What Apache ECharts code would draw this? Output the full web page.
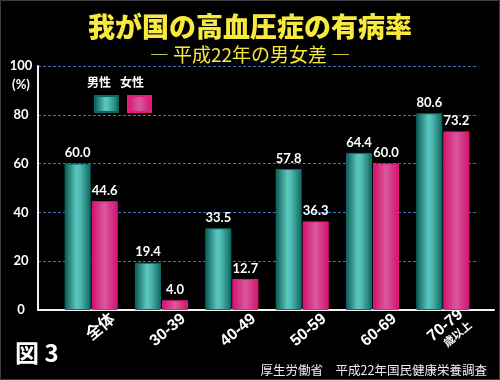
<!DOCTYPE html>
<html><head><meta charset="utf-8">
<script src="https://cdn.jsdelivr.net/npm/echarts@6/dist/echarts.min.js"></script>
<style>html,body{margin:0;padding:0;background:#000;}#c{width:500px;height:380px;}</style>
</head><body><div id="c"></div>
<script>
const titleText = '我が国の高血圧症の有病率';
const subTitleText = '― 平成22年の男女差 ―';
const categories = ['全体', '30-39', '40-49', '50-59', '60-69', '70-79'];
const lastCategoryNote = '歳以上';
const seriesNames = ['男性', '女性'];
const maleValues = [60.0, 19.4, 33.5, 57.8, 64.4, 80.6];
const femaleValues = [44.6, 4.0, 12.7, 36.3, 60.0, 73.2];
const yTicks = [0, 20, 40, 60, 80, 100];
const unitText = '(%)';
const figureText = '図 3';
const sourceText = '厚生労働省　平成22年国民健康栄養調査';

const CJK = '"Noto Sans CJK JP", sans-serif';
const NUM = 'Lato, "Noto Sans CJK JP", sans-serif';
const yMin = yTicks[0], yMax = yTicks[yTicks.length - 1], yStep = yTicks[1] - yTicks[0];

const chart = echarts.init(document.getElementById('c'), null, {renderer: 'canvas'});
const maleGrad = new echarts.graphic.LinearGradient(0, 0, 1, 0, [
  {offset: 0, color: '#0a5a53'}, {offset: 0.45, color: '#5cc7be'},
  {offset: 0.6, color: '#4fbab1'}, {offset: 1, color: '#0c675f'}]);
const femaleGrad = new echarts.graphic.LinearGradient(0, 0, 1, 0, [
  {offset: 0, color: '#d2106d'}, {offset: 0.5, color: '#d85a9b'}, {offset: 1, color: '#d0126d'}]);

const hiddenY = (i) => ({type: 'value', gridIndex: i, min: yMin, max: yMax, show: false});
const valueLabel = {show: true, position: 'top', distance: 4, color: '#fff', fontWeight: 'bold', fontSize: 13, fontFamily: NUM,
  formatter: (p) => p.value.toFixed(1)};

chart.setOption({
  backgroundColor: '#000',
  animation: false,
  title: [
    {text: titleText, left: 'center', top: 8, textStyle: {color: '#f7ea3c', fontSize: 27, fontWeight: 900, fontFamily: CJK}},
    {text: subTitleText, left: 'center', top: 40, textStyle: {color: '#f7ea3c', fontSize: 19, fontWeight: 'normal', fontFamily: CJK}}
  ],
  legend: [
    {data: [seriesNames[0]], left: 89, top: 90, itemWidth: 23, itemHeight: 16, formatter: () => '', selectedMode: false, icon: 'rect'},
    {data: [seriesNames[1]], left: 122, top: 90, itemWidth: 23, itemHeight: 16, formatter: () => '', selectedMode: false, icon: 'rect'}
  ],
  grid: [
    {left: 38, right: 23, top: 66, bottom: 70},
    {left: 38, right: 6, top: 66, bottom: 70},
    {left: 56, right: 22, top: 66, bottom: 70},
    {left: 78, right: 0, top: 66, bottom: 70}
  ],
  xAxis: [
    {type: 'value', gridIndex: 0, show: false},
    {type: 'value', gridIndex: 1, min: 0, max: 1, axisLine: {show: true, lineStyle: {color: '#f2f2f2', width: 2}},
      axisTick: {show: false}, axisLabel: {show: false}, splitLine: {show: false}},
    {type: 'category', gridIndex: 2, data: categories, axisLine: {show: false}, axisTick: {show: false}, axisLabel: {show: false}},
    {type: 'category', gridIndex: 3, data: categories, axisLine: {show: false}, axisTick: {show: false},
      axisLabel: {show: true, rotate: 40, margin: 7, interval: 0, color: '#fff', fontWeight: 'bold', fontSize: 16, fontFamily: '"Liberation Sans", "Noto Sans CJK JP", sans-serif',
        formatter: (v, i) => i === categories.length - 1 ? '{a|' + v + '}\n{s|' + lastCategoryNote + '}' : '{a|' + v + '}',
        rich: {a: {fontSize: 16, fontWeight: 'bold', color: '#fff', fontFamily: '"Liberation Sans", "Noto Sans CJK JP", sans-serif'},
               s: {fontSize: 11, fontWeight: 'bold', color: '#fff', fontFamily: CJK, lineHeight: 12}}}}
  ],
  yAxis: [
    {type: 'value', gridIndex: 0, min: yMin, max: yMax, interval: yStep,
      axisLine: {show: true, lineStyle: {color: '#f2f2f2', width: 2}}, axisTick: {show: false},
      axisLabel: {color: '#fff', fontWeight: 'bold', fontSize: 13, fontFamily: NUM, align: 'center', margin: 17},
      splitLine: {show: true, lineStyle: {color: '#3f72bf', type: [3, 2], width: 1}}},
    hiddenY(1), hiddenY(2), hiddenY(3)
  ],
  series: [
    {name: seriesNames[0], type: 'bar', xAxisIndex: 2, yAxisIndex: 2, data: maleValues, barWidth: 26, barGap: '4%',
      itemStyle: {color: maleGrad, borderColor: '#0b6a62', borderWidth: 1}, label: valueLabel},
    {name: seriesNames[1], type: 'bar', xAxisIndex: 2, yAxisIndex: 2, data: femaleValues, barWidth: 26, barGap: '4%',
      itemStyle: {color: femaleGrad, borderColor: '#e8187c', borderWidth: 1}, label: valueLabel}
  ],
  graphic: [
    {type: 'rect', shape: {x: 0.5, y: 0.5, width: 499, height: 379}, style: {fill: null, stroke: '#3c3c3c', lineWidth: 1}, silent: true},
    {type: 'text', x: 99, y: 82, style: {text: seriesNames[0], fill: '#fff', font: 'bold 12px "Noto Sans CJK JP"', textAlign: 'center', textVerticalAlign: 'middle'}},
    {type: 'text', x: 132, y: 82, style: {text: seriesNames[1], fill: '#fff', font: 'bold 12px "Noto Sans CJK JP"', textAlign: 'center', textVerticalAlign: 'middle'}},
    {type: 'text', x: 21, y: 85, style: {text: unitText, fill: '#fff', font: 'bold 13px Lato, "Noto Sans CJK JP"', textAlign: 'center', textVerticalAlign: 'middle'}},
    {type: 'text', x: 15, y: 353, style: {text: figureText, fill: '#fff', font: 'bold 24px "Noto Sans CJK JP"', textAlign: 'left', textVerticalAlign: 'middle'}},
    {type: 'text', x: 487, y: 370, style: {text: sourceText, fill: '#eee', font: '12.5px "Noto Sans CJK JP"', textAlign: 'right', textVerticalAlign: 'middle'}}
  ]
});
</script></body></html>
